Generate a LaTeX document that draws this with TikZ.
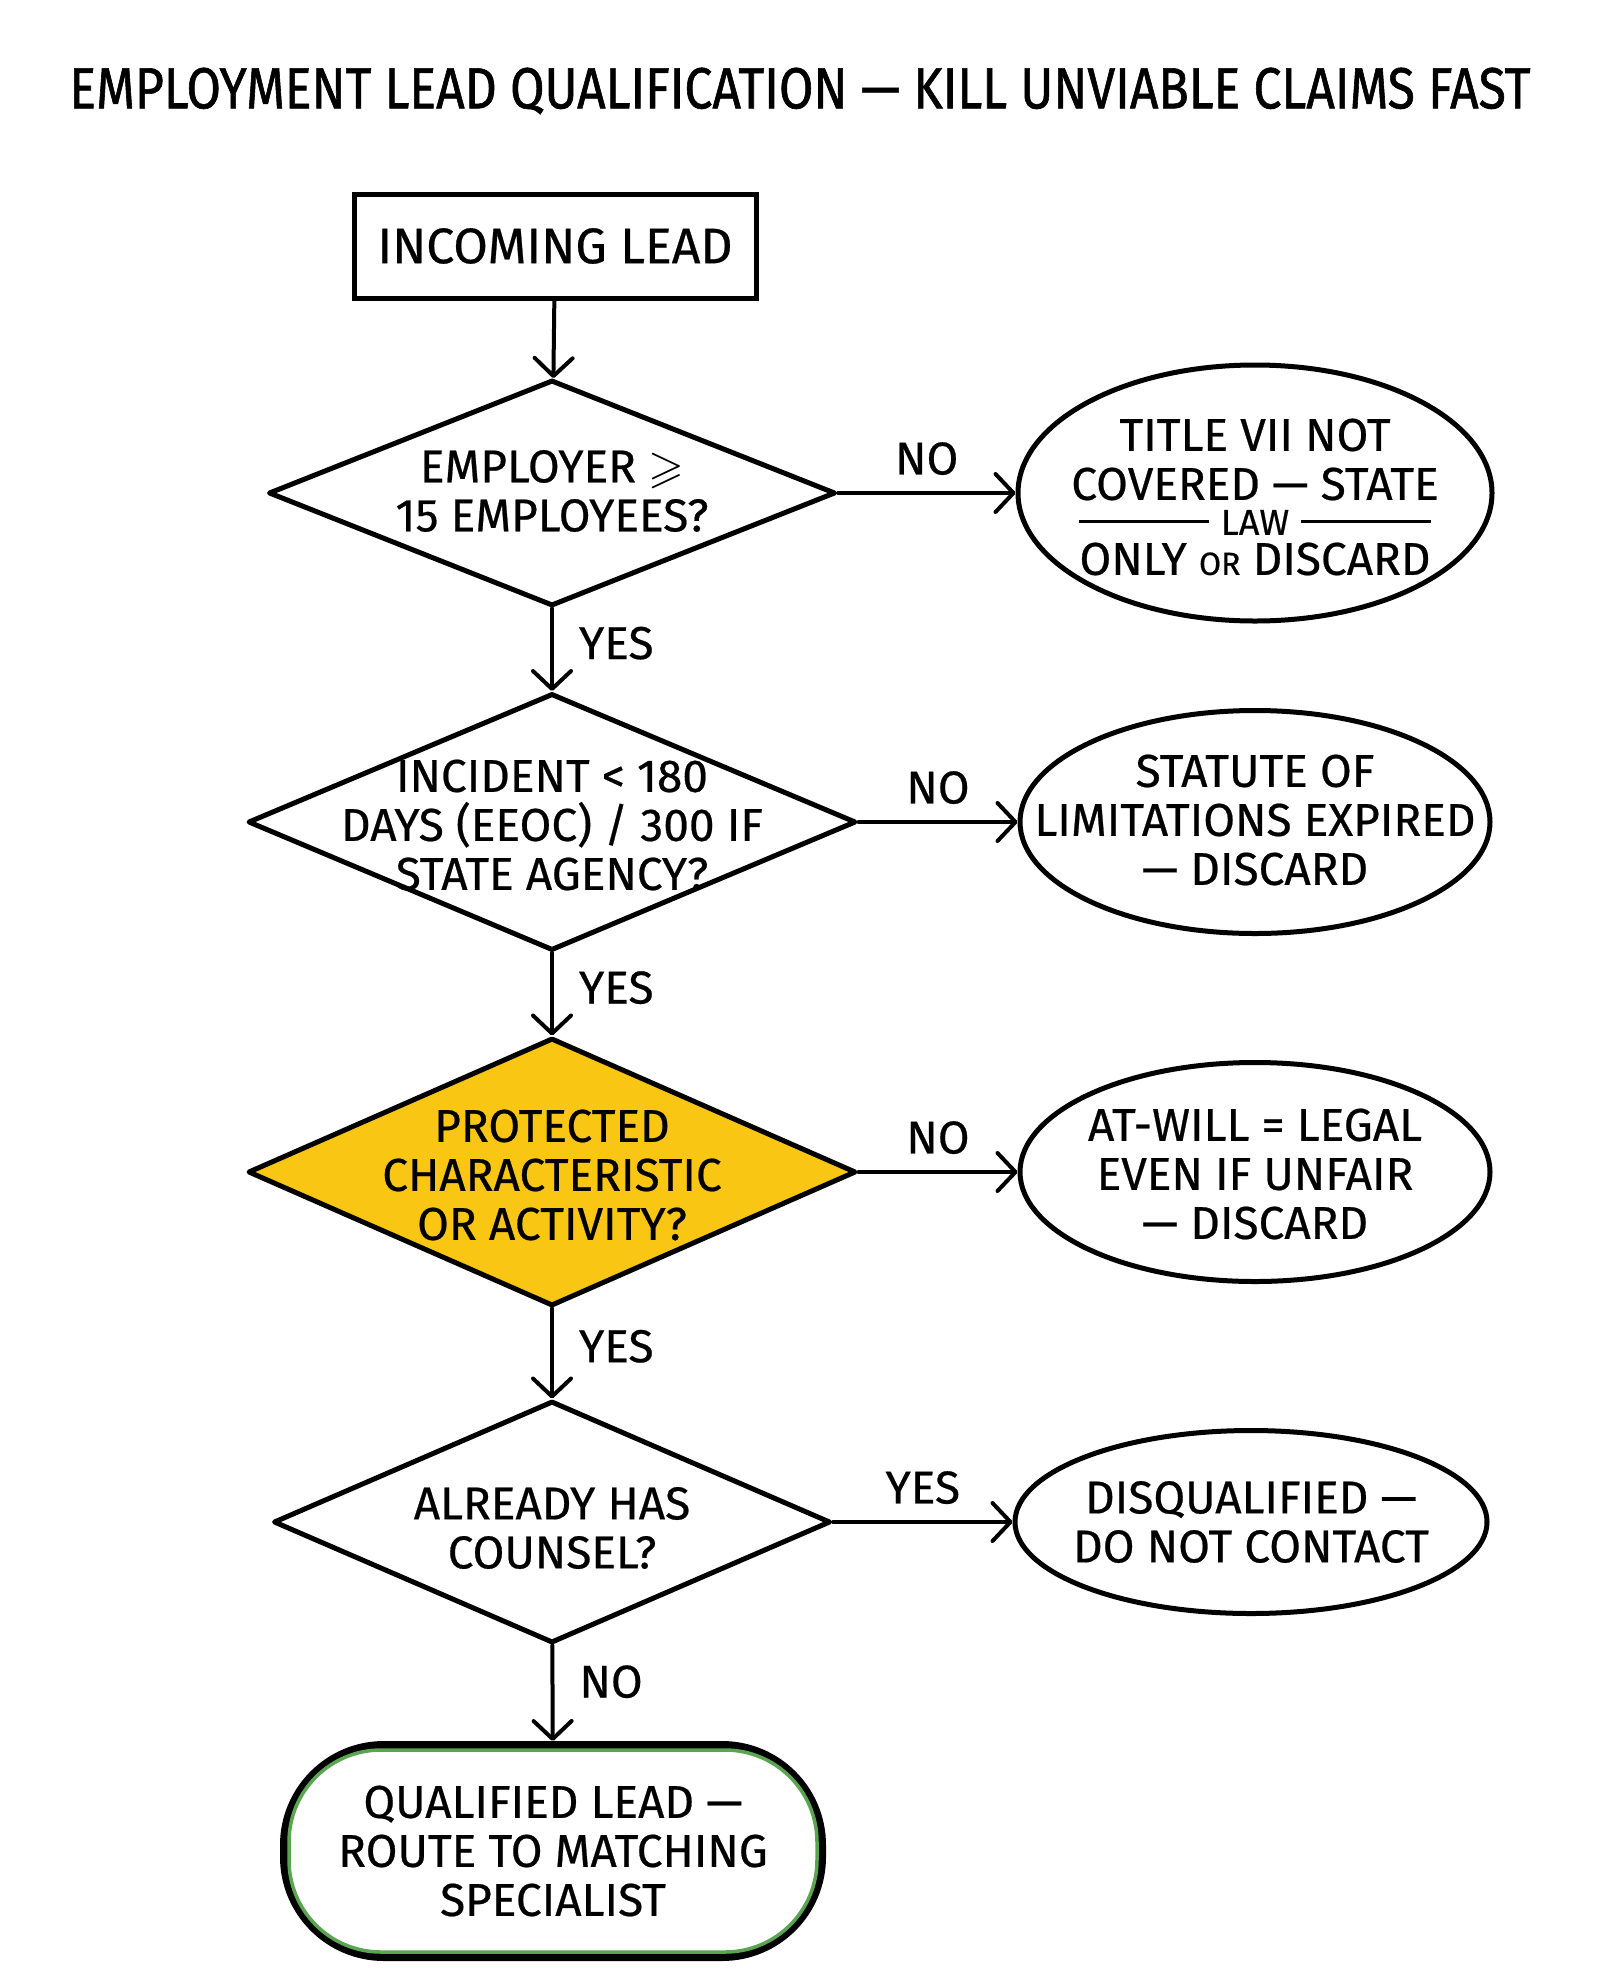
\documentclass[tikz,border=0pt]{standalone}
\usepackage{amssymb}
\usepackage{fontspec}
\setmainfont[FakeBold=0.5]{Fira Sans}
\newfontfamily\titlefont[FakeStretch=0.86, FakeBold=1]{Fira Sans}
\usetikzlibrary{shapes.geometric,arrows.meta,calc}
\definecolor{leadyellow}{RGB}{249,198,20}
\definecolor{leadgreen}{RGB}{90,165,80}
\newcommand\lawrule{\rule[12pt]{130pt}{3pt}}

\begin{document}
\begin{tikzpicture}[x=1pt,y=-1pt,
    every node/.style={font=\fontsize{46}{49}\selectfont},
    startbox/.style={draw, line width=5pt, minimum width=402pt, minimum height=104pt,
      font=\fontsize{50}{54}\selectfont},
    decide/.style={draw, diamond, line width=5pt, line join=round, inner sep=0pt},
    outcome/.style={draw, ellipse, line width=5pt, inner sep=0pt},
    qtext/.style={align=center, inner sep=0pt},
    answer/.style={inner sep=0pt},
    flow/.style={-{Straight Barb[length=18pt,width=38pt,round]}, line width=4pt, line cap=round}]
      \useasboundingbox (0,0) rectangle (1600,1986);
      \node[font=\titlefont\fontsize{58}{60}\selectfont] (title) at (800,91)
        {EMPLOYMENT LEAD QUALIFICATION — KILL UNVIABLE CLAIMS FAST};
      \node[startbox] (lead) at (555,246) {INCOMING LEAD};
      \node[decide, minimum width=567pt, minimum height=226pt] (q1) at (552,493) {};
      \node[qtext] (q1t) at (552,491) {EMPLOYER $\geqslant$\\15 EMPLOYEES?};
      \node[decide, minimum width=608pt, minimum height=257pt] (q2) at (552,822) {};
      \node[qtext] (q2t) at (552,825) {INCIDENT < 180\\DAYS (EEOC) / 300 IF\\STATE AGENCY?};
      \node[decide, fill=leadyellow, minimum width=608pt, minimum height=268pt] (q3) at (552,1172) {};
      \node[qtext] (q3t) at (552,1175) {PROTECTED\\CHARACTERISTIC\\OR ACTIVITY?};
      \node[decide, minimum width=557pt, minimum height=242pt] (q4) at (552,1522) {};
      \node[qtext] (q4t) at (552,1528) {ALREADY HAS\\COUNSEL?};
      \node[outcome, minimum width=474pt, minimum height=256pt] (n1) at (1255,493) {};
      \node[qtext] (n1t) at (1255,497) {TITLE VII NOT\\COVERED — STATE\\[-14pt]
        \lawrule\hspace{12pt}{\fontsize{36}{38}\selectfont LAW}\hspace{12pt}\lawrule\\[-9pt]
        ONLY {\fontsize{32}{34}\selectfont OR} DISCARD};
      \node[outcome, minimum width=470pt, minimum height=223pt] (n2) at (1255,822) {};
      \node[qtext] (n2t) at (1255,820) {STATUTE OF\\LIMITATIONS EXPIRED\\— DISCARD};
      \node[outcome, minimum width=470pt, minimum height=219pt] (n3) at (1255,1172) {};
      \node[qtext] (n3t) at (1255,1174) {AT-WILL = LEGAL\\EVEN IF UNFAIR\\— DISCARD};
      \node[outcome, minimum width=472pt, minimum height=183pt] (n4) at (1251,1522) {};
      \node[qtext] (n4t) at (1251,1522) {DISQUALIFIED —\\DO NOT CONTACT};
      \node[draw, line width=8pt, rounded corners=100pt, minimum width=538pt,
        minimum height=212pt, align=center] (done) at (553,1851)
        {QUALIFIED LEAD —\\ROUTE TO MATCHING\\SPECIALIST};
      \draw[leadgreen, line width=3.5pt, rounded corners=92pt]
        ($(done.north west)+(9,9)$) rectangle ($(done.south east)+(-9,-9)$);
      \begin{scope}[flow]
        \draw (lead) to (q1);
        \draw (q1) to node[answer, right=25pt, pos=0.42] (y1) {YES} (q2);
        \draw (q2) to node[answer, right=25pt, pos=0.42] (y2) {YES} (q3);
        \draw (q3) to node[answer, right=25pt, pos=0.42] (y3) {YES} (q4);
        \draw (q4) to node[answer, right=25pt, pos=0.38] (x4) {NO} (done);
        \draw (q1) to node[answer, above=16pt] (x1) {NO} (n1);
        \draw (q2) to node[answer, above=16pt] (x2) {NO} (n2);
        \draw (q3) to node[answer, above=16pt] (x3) {NO} (n3);
        \draw (q4) to node[answer, above=16pt] (y4) {YES} (n4);
      \end{scope}
    \end{tikzpicture}
\end{document}
